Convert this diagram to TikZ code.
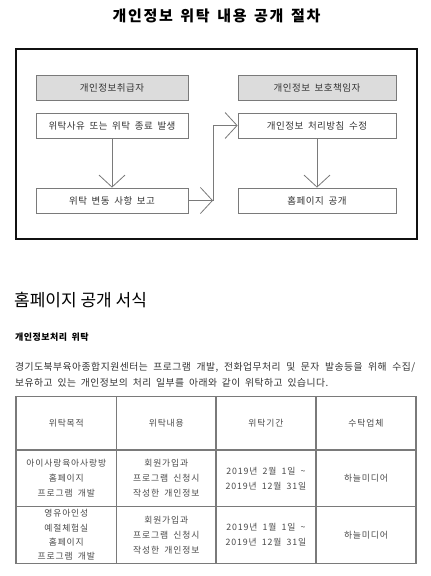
\documentclass[tikz,border=0pt]{standalone}
\usepackage{fontspec}
\usepackage{tikz}
\usepackage{xcolor}
\usetikzlibrary{arrows.meta,positioning,calc}
\setmainfont{Noto Sans CJK KR}[LetterSpace=5,WordSpace=1.8]
\newfontfamily\titlefont{Noto Sans CJK KR}[LetterSpace=11,WordSpace=1.5]
\newfontfamily\headfont{Noto Sans CJK KR}
\newfontfamily\cellfont{Noto Sans CJK KR}[LetterSpace=10,WordSpace=1.8]
\definecolor{frameink}{HTML}{111111}
\definecolor{boxline} {HTML}{7A7A7A}
\definecolor{headfill}{HTML}{DCDCDC}
\definecolor{textink} {HTML}{333333}
\definecolor{cellink} {HTML}{4A4A4A}

\tikzset{
  stepbox/.style={draw=boxline,line width=0.8pt,minimum height=25pt,
                  inner sep=0pt,text=textink,font=\fontsize{9.5}{11}\selectfont},
  headbox/.style={stepbox,fill=headfill},
  flow/.style={draw=boxline,line width=0.8pt,
               -{Straight Barb[length=12pt,width=26pt,line width=0.8pt]}},
  cell/.style={align=center,text=cellink,inner sep=0pt,
               font=\cellfont\fontsize{8.8}{14.8}\selectfont},
}

\begin{document}
\begin{tikzpicture}[x=1pt,y=-1pt]
  \useasboundingbox[fill=white] (0,0) rectangle (431,576);

  % procedure
  \node (title) at (216.5,16) {\titlefont\bfseries\fontsize{15}{17}\selectfont 개인정보 위탁 내용 공개 절차};
  \draw[frameink,line width=2pt] (16,49) rectangle (417,239);

  \node[headbox,minimum width=152pt] (lhead)   at (112,87.5)  {개인정보취급자};
  \node[stepbox,minimum width=152pt] (lcause)  at (112,125.5) {위탁사유 또는 위탁 종료 발생};
  \node[stepbox,minimum width=152pt] (lreport) at (112,200.5) {위탁 변동 사항 보고};
  \node[headbox,minimum width=158pt] (rhead)   at (317,87.5)  {개인정보 보호책임자};
  \node[stepbox,minimum width=158pt] (rpolicy) at (317,125.5) {개인정보 처리방침 수정};
  \node[stepbox,minimum width=158pt] (rhome)   at (317,200.5) {홈페이지 공개};
  \coordinate (bend) at (213,200.5);

  \draw[flow] (lcause) -- (lreport);
  \draw[flow] (lreport) -- (bend);
  \draw[flow] (bend) |- (rpolicy.west);
  \draw[flow] (rpolicy) -- (rhome);

  % homepage form
  \node[anchor=west,inner sep=0pt] (form) at (14,300)
    {\headfont\fontsize{17}{19}\selectfont 홈페이지 공개 서식};
  \node[anchor=west,inner sep=0pt] (sub) at (15,337.5)
    {\bfseries\fontsize{9}{11}\selectfont 개인정보처리 위탁};
  \node[anchor=north west,inner sep=0pt,align=left,text=textink,
        font=\fontsize{9.8}{15.7}\selectfont] (para) at (15,362)
    {\makebox[400pt][s]{경기도북부육아종합지원센터는 프로그램 개발, 전화업무처리 및 문자 발송등을 위해 수집/}\\
     보유하고 있는 개인정보의 처리 일부를 아래와 같이 위탁하고 있습니다.};

  % table
  \draw[boxline,line width=1.2pt] (16,396.7) rectangle (416,563.3);
  \draw[boxline,line width=1.2pt] (116.7,396.7) -- (116.7,563.3)
        (216,396.7) -- (216,563.3) (316,396.7) -- (316,563.3)
        (16,450) -- (416,450) (16,506.7) -- (416,506.7);

  \node[cell] (h1) at (66.3,423.3) {위탁목적};
  \node[cell] (h2) at (166.3,423.3) {위탁내용};
  \node[cell] (h3) at (266,423.3) {위탁기간};
  \node[cell] (h4) at (366,423.3) {수탁업체};

  \node[cell] (a1) at (66.3,478.3) {아이사랑육아사랑방\\홈페이지\\프로그램 개발};
  \node[cell] (a2) at (166.3,478.3) {회원가입과\\프로그램 신청시\\작성한 개인정보};
  \node[cell] (a3) at (266,478.3) {2019년 2월 1일 \textasciitilde\\2019년 12월 31일};
  \node[cell] (a4) at (366,478.3) {하늘미디어};

  \node[cell,font=\cellfont\fontsize{8.8}{14.3}\selectfont] (b1) at (66.3,535) {영유아인성\\예절체험실\\홈페이지\\프로그램 개발};
  \node[cell] (b2) at (166.3,535) {회원가입과\\프로그램 신청시\\작성한 개인정보};
  \node[cell] (b3) at (266,535) {2019년 1월 1일 \textasciitilde\\2019년 12월 31일};
  \node[cell] (b4) at (366,535) {하늘미디어};
\end{tikzpicture}
\end{document}
